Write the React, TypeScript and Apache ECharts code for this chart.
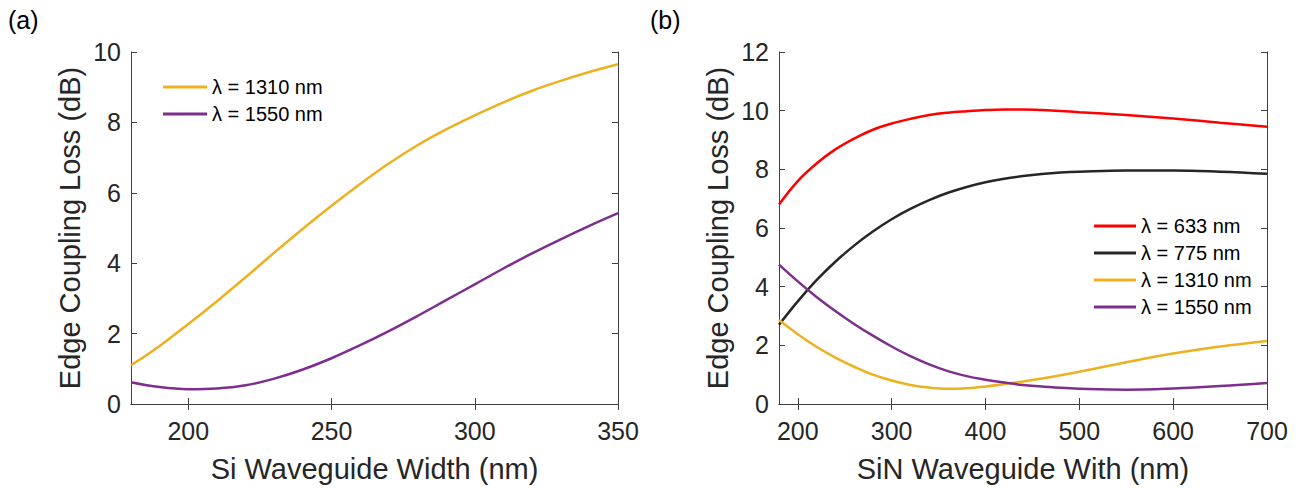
import React, { useEffect, useRef } from "react";
import * as echarts from "echarts";

const FONT = "'Liberation Sans', Arial, Helvetica, sans-serif";
const AXIS_COLOR = "#404040";

// Panel (a): Si waveguide width (nm)
const siWidth = [180, 190, 200, 210, 220, 230, 240, 250, 260, 270, 280, 290, 300, 310, 320, 330, 340, 350];
const si1310 = [1.1, 1.65, 2.27, 2.92, 3.6, 4.3, 4.98, 5.63, 6.25, 6.83, 7.35, 7.8, 8.2, 8.57, 8.9, 9.18, 9.43, 9.65];
const si1550 = [0.62, 0.48, 0.42, 0.44, 0.53, 0.72, 0.98, 1.3, 1.67, 2.07, 2.5, 2.95, 3.4, 3.85, 4.28, 4.68, 5.06, 5.42];

// Panel (b): SiN waveguide width (nm)
const sinWidth = [180, 200, 220, 240, 260, 280, 300, 320, 340, 360, 380, 400, 420, 440, 460, 480, 500, 550, 600, 650, 700];
const sin633 = [6.8, 7.6, 8.2, 8.68, 9.05, 9.35, 9.56, 9.72, 9.85, 9.93, 9.98, 10.02, 10.04, 10.04, 10.02, 9.99, 9.95, 9.85, 9.73, 9.59, 9.45];
const sin775 = [2.7, 3.5, 4.22, 4.85, 5.4, 5.88, 6.3, 6.65, 6.95, 7.2, 7.4, 7.56, 7.68, 7.77, 7.84, 7.89, 7.92, 7.96, 7.96, 7.92, 7.85];
const sin1310 = [2.86, 2.38, 1.95, 1.58, 1.27, 1.0, 0.8, 0.65, 0.56, 0.52, 0.54, 0.6, 0.68, 0.77, 0.87, 0.98, 1.1, 1.42, 1.72, 1.96, 2.15];
const sin1550 = [4.75, 4.18, 3.65, 3.17, 2.73, 2.33, 1.96, 1.63, 1.35, 1.12, 0.95, 0.83, 0.73, 0.65, 0.6, 0.55, 0.52, 0.49, 0.53, 0.61, 0.72];

const names = ["λ = 633 nm", "λ = 775 nm", "λ = 1310 nm", "λ = 1550 nm"];
const colors = ["#FF0000", "#262626", "#EDB120", "#7E2F8E"];

const xLeft = { min: 180, max: 350 };
const xRight = { min: 180, max: 700 };
const yLeft = { min: 0, max: 10 };
const yRight = { min: 0, max: 12 };
const xLeftTicks = [200, 250, 300, 350];
const xRightTicks = [200, 300, 400, 500, 600, 700];

const zip = (xs: number[], ys: number[]) => xs.map((x, i) => [x, ys[i]]);

export default function App() {
  const ref = useRef<HTMLDivElement>(null);
  useEffect(() => {
    if (!ref.current) return;
    const chart = echarts.init(ref.current, undefined, { renderer: "svg" });

    const lineAxis = { lineStyle: { color: AXIS_COLOR, width: 1 } };
    const tick = { inside: true, length: 6, lineStyle: { color: AXIS_COLOR } };
    const label = { color: "#262626", fontSize: 25, fontFamily: FONT };

    const mkX = (grid: number, r: any, ticks: number[], name: string) => [
      {
        type: "value", gridIndex: grid, ...r, position: "bottom",
        axisLine: lineAxis, axisTick: { ...tick, customValues: ticks }, splitLine: { show: false },
        axisLabel: { ...label, margin: 14, customValues: ticks },
        name, nameLocation: "middle", nameGap: 50,
        nameTextStyle: { color: "#262626", fontSize: 29, fontFamily: FONT },
      },
      {
        type: "value", gridIndex: grid, ...r, position: "top",
        axisLine: lineAxis, axisTick: { ...tick, customValues: ticks }, splitLine: { show: false },
        axisLabel: { show: false },
      },
    ];
    const mkY = (grid: number, r: any) => [
      {
        type: "value", gridIndex: grid, ...r, position: "left",
        axisLine: { show: true, ...lineAxis }, axisTick: tick, splitLine: { show: false },
        axisLabel: { ...label, margin: 10 },
        name: "Edge Coupling Loss (dB)", nameLocation: "middle", nameGap: 47,
        nameTextStyle: { color: "#262626", fontSize: 29, fontFamily: FONT },
      },
      {
        type: "value", gridIndex: grid, ...r, position: "right",
        axisLine: { show: true, ...lineAxis }, axisTick: tick, splitLine: { show: false },
        axisLabel: { show: false },
      },
    ];

    const line = (name: string, color: string, data: number[][], xi: number, yi: number) => ({
      type: "line", name, data, xAxisIndex: xi, yAxisIndex: yi,
      smooth: 0.4, showSymbol: false, symbol: "none",
      lineStyle: { color, width: 2.5 }, itemStyle: { color },
    });

    const legendText = { color: "#000", fontSize: 20, fontFamily: FONT, lineHeight: 20 };

    chart.setOption({
      animation: false,
      backgroundColor: "#ffffff",
      grid: [
        { left: 131, top: 52, width: 487, height: 354 },
        { left: 779, top: 52, width: 488, height: 354 },
      ],
      xAxis: [...mkX(0, xLeft, xLeftTicks, "Si Waveguide Width (nm)"), ...mkX(1, xRight, xRightTicks, "SiN Waveguide With (nm)")],
      yAxis: [...mkY(0, yLeft), ...mkY(1, yRight)],
      legend: [
        {
          left: 158, top: 72, orient: "vertical", itemWidth: 44, itemHeight: 3, itemGap: 7,
          icon: "rect", data: [names[2], names[3]], textStyle: legendText, selectedMode: false,
        },
        {
          left: 1089, top: 211, orient: "vertical", itemWidth: 42, itemHeight: 3, itemGap: 7,
          icon: "rect", data: names, textStyle: legendText, selectedMode: false,
        },
      ],
      graphic: [
        { type: "text", left: 8, top: 7, style: { text: "(a)", fontSize: 25, fontFamily: FONT, fill: "#000" } },
        { type: "text", left: 650, top: 7, style: { text: "(b)", fontSize: 25, fontFamily: FONT, fill: "#000" } },
      ],
      series: [
        line(names[2], colors[2], zip(siWidth, si1310), 0, 0),
        line(names[3], colors[3], zip(siWidth, si1550), 0, 0),
        line(names[0], colors[0], zip(sinWidth, sin633), 2, 2),
        line(names[1], colors[1], zip(sinWidth, sin775), 2, 2),
        line(names[2], colors[2], zip(sinWidth, sin1310), 2, 2),
        line(names[3], colors[3], zip(sinWidth, sin1550), 2, 2),
      ],
    });
    return () => chart.dispose();
  }, []);
  return <div ref={ref} style={{ position: "fixed", left: 0, top: 0, width: 1300, height: 488, background: "#fff" }} />;
}
